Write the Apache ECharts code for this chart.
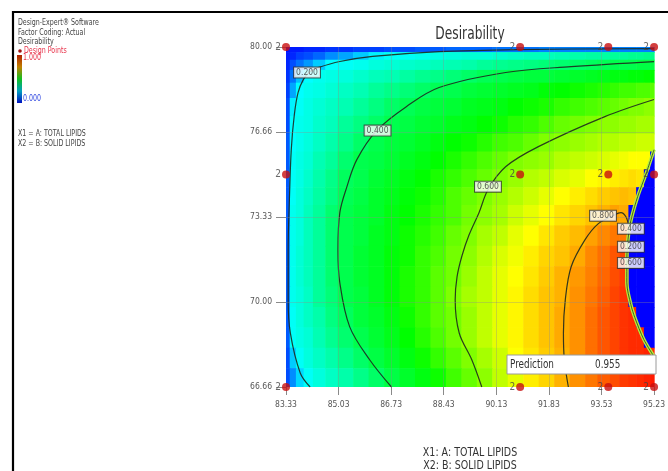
<!DOCTYPE html>
<html><head><meta charset="utf-8">
<script src="https://cdn.jsdelivr.net/npm/echarts@6/dist/echarts.min.js"></script>
<style>html,body{margin:0;padding:0;background:#fff}#c{width:668px;height:471px}</style>
</head><body><div id="c"></div>
<script>
// ---- tick labels ----
const xTicks = [83.33, 85.03, 86.73, 88.43, 90.13, 91.83, 93.53, 95.23];
const yTicks = [66.66, 70.00, 73.33, 76.66, 80.00];

// ---- desirability field ----
const xEdges = [83.33,83.45,83.65,83.9,84.2,84.6,85.0,85.5,86.0,86.5,87.0,87.5,88.0,88.5,89.0,89.5,90.0,90.5,91.0,91.5,92.0,92.5,93.0,93.4,93.8,94.1,94.4,94.65,94.9,95.1,95.23];
const yEdges = [80.0,79.8,79.5,79.1,78.6,78.0,77.3,76.6,75.9,75.2,74.5,73.8,73.0,72.2,71.4,70.6,69.8,69.0,68.2,67.4,66.66];
const d_79_90 = [0.01,0.02,0.02,0.03,0.03,0.04,0.04,0.05,0.05,0.06,0.06,0.07,0.07,0.08,0.08,0.08,0.09,0.09,0.09,0.10,0.10,0.10,0.10,0.10,0.10,0.10,0.10,0.10,0.10,0.10];
const d_79_65 = [0.02,0.03,0.05,0.06,0.08,0.11,0.13,0.16,0.19,0.21,0.21,0.22,0.23,0.24,0.25,0.25,0.26,0.27,0.28,0.28,0.29,0.30,0.31,0.31,0.32,0.32,0.33,0.33,0.34,0.34];
const d_79_30 = [0.03,0.06,0.09,0.12,0.16,0.20,0.21,0.22,0.24,0.25,0.26,0.27,0.28,0.29,0.30,0.32,0.33,0.34,0.35,0.36,0.37,0.38,0.39,0.40,0.41,0.41,0.41,0.42,0.42,0.42];
const d_78_85 = [0.04,0.09,0.15,0.20,0.22,0.23,0.24,0.26,0.28,0.29,0.31,0.33,0.34,0.36,0.38,0.40,0.41,0.42,0.43,0.43,0.44,0.45,0.46,0.47,0.48,0.48,0.49,0.49,0.50,0.50];
const d_78_30 = [0.05,0.13,0.20,0.22,0.23,0.25,0.27,0.29,0.32,0.34,0.36,0.38,0.40,0.41,0.43,0.44,0.45,0.46,0.47,0.49,0.50,0.51,0.52,0.53,0.54,0.55,0.55,0.56,0.56,0.57];
const d_77_65 = [0.06,0.19,0.21,0.23,0.25,0.27,0.29,0.32,0.35,0.38,0.40,0.42,0.43,0.44,0.46,0.47,0.48,0.50,0.51,0.52,0.54,0.55,0.56,0.57,0.58,0.59,0.60,0.60,0.61,0.61];
const d_76_95 = [0.06,0.20,0.22,0.23,0.26,0.28,0.32,0.35,0.38,0.41,0.42,0.44,0.45,0.47,0.48,0.50,0.51,0.53,0.54,0.56,0.58,0.59,0.60,0.61,0.61,0.62,0.62,0.63,0.63,0.63];
const d_76_25 = [0.07,0.20,0.22,0.24,0.27,0.30,0.34,0.38,0.41,0.43,0.44,0.46,0.48,0.50,0.51,0.53,0.55,0.56,0.58,0.60,0.61,0.62,0.63,0.64,0.64,0.65,0.65,0.66,0.66,0.66];
const d_75_55 = [0.07,0.21,0.23,0.25,0.29,0.32,0.37,0.41,0.42,0.44,0.46,0.48,0.50,0.52,0.54,0.56,0.58,0.60,0.61,0.62,0.64,0.65,0.66,0.67,0.68,0.69,0.70,0.70,0.70,0.00];
const d_74_85 = [0.07,0.21,0.23,0.26,0.30,0.34,0.39,0.41,0.44,0.46,0.48,0.50,0.52,0.54,0.56,0.58,0.60,0.62,0.64,0.65,0.67,0.68,0.70,0.71,0.72,0.73,0.74,0.73,0.00,0.00];
const d_74_15 = [0.07,0.21,0.24,0.27,0.31,0.35,0.40,0.42,0.45,0.47,0.49,0.51,0.53,0.56,0.58,0.60,0.62,0.64,0.66,0.68,0.70,0.72,0.74,0.76,0.77,0.78,0.77,0.00,0.00,0.00];
const d_73_40 = [0.07,0.22,0.24,0.28,0.32,0.37,0.41,0.43,0.45,0.48,0.50,0.52,0.54,0.56,0.59,0.61,0.63,0.66,0.68,0.70,0.73,0.75,0.77,0.79,0.81,0.80,0.00,0.00,0.00,0.00];
const d_72_60 = [0.07,0.22,0.24,0.28,0.32,0.37,0.41,0.43,0.46,0.48,0.51,0.53,0.55,0.58,0.60,0.63,0.65,0.68,0.70,0.73,0.76,0.78,0.81,0.84,0.86,0.86,0.00,0.00,0.00,0.00];
const d_71_80 = [0.07,0.22,0.25,0.28,0.32,0.37,0.41,0.44,0.46,0.49,0.51,0.54,0.56,0.59,0.61,0.64,0.67,0.69,0.72,0.75,0.77,0.80,0.84,0.87,0.90,0.92,0.00,0.00,0.00,0.00];
const d_71_00 = [0.07,0.22,0.25,0.28,0.32,0.37,0.41,0.44,0.46,0.49,0.52,0.54,0.57,0.59,0.62,0.65,0.68,0.70,0.73,0.76,0.79,0.82,0.85,0.88,0.91,0.93,0.00,0.00,0.00,0.00];
const d_70_20 = [0.07,0.22,0.24,0.27,0.32,0.36,0.41,0.43,0.46,0.49,0.52,0.54,0.57,0.60,0.63,0.65,0.68,0.71,0.74,0.77,0.79,0.83,0.86,0.89,0.92,0.94,0.00,0.00,0.00,0.00];
const d_69_40 = [0.07,0.21,0.24,0.27,0.30,0.35,0.39,0.43,0.45,0.48,0.51,0.54,0.57,0.59,0.62,0.65,0.68,0.71,0.74,0.77,0.80,0.83,0.87,0.90,0.92,0.94,0.95,0.00,0.00,0.00];
const d_68_60 = [0.07,0.21,0.23,0.25,0.29,0.33,0.37,0.41,0.44,0.47,0.50,0.53,0.56,0.59,0.62,0.65,0.68,0.71,0.74,0.77,0.80,0.83,0.87,0.90,0.92,0.94,0.95,0.95,0.00,0.00];
const d_67_80 = [0.06,0.16,0.21,0.24,0.27,0.30,0.34,0.38,0.42,0.45,0.48,0.51,0.54,0.57,0.60,0.63,0.66,0.70,0.73,0.76,0.79,0.83,0.87,0.90,0.92,0.94,0.95,0.95,0.96,0.95];
const d_67_03 = [0.06,0.11,0.17,0.21,0.24,0.27,0.30,0.34,0.38,0.42,0.45,0.48,0.51,0.55,0.58,0.61,0.65,0.68,0.72,0.75,0.79,0.83,0.86,0.89,0.91,0.93,0.94,0.95,0.96,0.97];
const fieldRows = [d_79_90,d_79_65,d_79_30,d_78_85,d_78_30,d_77_65,d_76_95,d_76_25,d_75_55,d_74_85,d_74_15,d_73_40,d_72_60,d_71_80,d_71_00,d_70_20,d_69_40,d_68_60,d_67_80,d_67_03];

// ---- contour lines ----
const contour020 = [[84.11,66.66],[83.79,67.21],[83.47,68.78],[83.40,70.08],[83.40,72.04],[83.44,74.01],[83.50,75.97],[83.60,77.35],[83.72,78.21],[83.89,78.72],[84.11,79.04],[84.37,79.19],[85.07,79.43],[86.13,79.63],[88.28,79.82],[90.85,79.90],[95.23,79.94]];
const contour040 = [[86.74,66.66],[86.04,67.72],[85.39,69.02],[85.07,70.75],[85.01,72.04],[85.07,73.50],[85.30,74.52],[85.62,75.58],[86.26,76.72],[87.22,77.66],[88.28,78.41],[90.43,79.00],[92.55,79.23],[95.23,79.43]];
const contour060 = [[89.66,66.66],[89.34,67.72],[88.93,68.78],[88.80,70.08],[88.86,70.98],[89.02,71.81],[89.25,72.63],[89.57,73.50],[89.86,74.40],[90.43,75.30],[91.49,76.09],[93.64,77.27],[95.23,77.94]];
const contour080 = [[92.46,66.66],[92.33,67.72],[92.30,68.78],[92.36,70.08],[92.55,71.38],[93.00,72.44],[93.42,73.06],[93.90,73.38],[94.16,73.50],[94.32,73.34],[94.41,72.99]];
const edgeContour = [[95.23,75.97],[94.96,74.99],[94.70,74.13],[94.51,73.34],[94.41,72.71],[94.35,71.65],[94.35,70.75],[94.48,69.89],[94.61,69.38],[94.90,68.52],[95.23,67.85]];

// ---- contour labels ----
const labelText = ['0.200','0.400','0.600','0.800','0.400','0.200','0.600'];
const labelX = [84.01, 86.29, 89.86, 93.58, 94.48, 94.48, 94.48];
const labelY = [79.00, 76.72, 74.52, 73.38, 72.87, 72.16, 71.53];

// ---- design points ----
const dpX = [83.33, 90.90, 93.75, 95.23, 83.33, 90.90, 93.75, 95.23, 83.33, 90.90, 93.75, 95.23];
const dpY = [80.00, 80.00, 80.00, 80.00, 75.00, 75.00, 75.00, 75.00, 66.66, 66.66, 66.66, 66.66];
const dpRuns = [2,2,2,2,2,2,2,2,2,2,2,2];

const predictionValue = '0.955';

const FONT = "'Liberation Sans Narrow','DejaVu Sans Condensed','Arial Narrow',sans-serif";
const palette = ['#0000ff','#0080ff','#00ffff','#00ffaa','#00ff55','#00ff00','#80ff00','#ffff00','#ffaa00','#ff5500','#ff0000'];

const cells = [];
fieldRows.forEach((row, j) => row.forEach((v, i) => {
  cells.push([xEdges[i], xEdges[i + 1], yEdges[j + 1], yEdges[j], v]);
}));

const chart = echarts.init(document.getElementById('c'));
const contourStyle = { color: '#1e2a1e', width: 1.2, opacity: 0.9 };
function contourSeries(data, extra) {
  return Object.assign({
    type: 'line', data: data, smooth: 0.35, symbol: 'none', clip: true, z: 4,
    lineStyle: contourStyle, silent: true
  }, extra || {});
}
const text = (x, y, s, opt, sx) => ({
  type: 'text', x: x, y: y, z: 50, scaleX: sx || 0.78,
  style: Object.assign({ text: s, fontSize: 9, fontFamily: FONT, fill: '#444', verticalAlign: 'middle', align: 'left' }, opt || {})
});

chart.setOption({
  animation: false,
  backgroundColor: '#ffffff',
  grid: { left: 286, top: 47, width: 371, height: 340 },
  xAxis: {
    type: 'value', min: 83.33, max: 95.23,
    axisLine: { show: false }, splitLine: { show: false },
    axisTick: { show: true, customValues: xTicks, length: 8, lineStyle: { color: '#8a8a8a' } },
    axisLabel: { customValues: xTicks, formatter: v => v.toFixed(2), margin: 13, fontSize: 8.5, color: '#555', fontFamily: FONT }
  },
  yAxis: {
    type: 'value', min: 66.66, max: 80.00,
    axisLine: { show: false }, splitLine: { show: false },
    axisTick: { show: true, customValues: yTicks, length: 10, lineStyle: { color: '#8a8a8a' } },
    axisLabel: { customValues: yTicks, formatter: v => v.toFixed(2), margin: 14, fontSize: 8.5, color: '#555', fontFamily: FONT }
  },
  visualMap: {
    type: 'continuous', show: false, min: 0, max: 1, dimension: 4, seriesIndex: 0,
    inRange: { color: palette }
  },
  series: [
    {
      type: 'custom', data: cells, clip: true, z: 1, silent: true,
      encode: { x: [0, 1], y: [2, 3] },
      renderItem: function (params, api) {
        const p0 = api.coord([api.value(0), api.value(3)]);
        const p1 = api.coord([api.value(1), api.value(2)]);
        return {
          type: 'rect',
          shape: { x: p0[0], y: p0[1], width: p1[0] - p0[0] + 0.6, height: p1[1] - p0[1] + 0.6 },
          style: { fill: api.visual('color') }
        };
      }
    },
    contourSeries(contour020, {
      markLine: {
        silent: true, symbol: 'none', label: { show: false },
        lineStyle: { color: 'rgba(140,140,140,0.35)', width: 1, type: 'solid' },
        data: xTicks.slice(1, -1).map(v => ({ xAxis: v })).concat(yTicks.slice(1, -1).map(v => ({ yAxis: v })))
      }
    }),
    contourSeries(contour040),
    contourSeries(contour060),
    contourSeries(contour080),
    contourSeries(edgeContour, { smooth: 0.3, lineStyle: { color: '#b4f03c', width: 3.5 } }),
    contourSeries(edgeContour, { smooth: 0.3, lineStyle: { color: '#2a3a1a', width: 1, opacity: 0.8 } }),
    {
      type: 'scatter', z: 8, silent: true, symbol: 'rect', symbolSize: 1,
      itemStyle: { color: 'rgba(0,0,0,0)' },
      data: labelX.map((x, i) => ({ value: [x, labelY[i]], name: labelText[i] })),
      label: {
        show: true, position: 'inside', formatter: p => p.name,
        fontSize: 8.5, fontFamily: FONT, color: '#333',
        backgroundColor: '#ffffff', borderColor: '#333', borderWidth: 1, padding: [1, 2, 0, 2]
      }
    },
    {
      type: 'scatter', z: 9, silent: true, clip: false, symbol: 'circle', symbolSize: 8,
      itemStyle: { color: '#c80f0f' },
      data: dpX.map((x, i) => [x, dpY[i]]),
      label: {
        show: true, position: 'left', distance: 1,
        formatter: p => String(dpRuns[p.dataIndex]),
        fontSize: 10, fontFamily: FONT, color: '#444'
      }
    }
  ],
  graphic: [
    { type: 'polyline', z: 60, shape: { points: [[13, 471], [13, 12], [668, 12]] }, style: { stroke: '#000', lineWidth: 2.2, fill: null } },
    text(470, 35, 'Desirability', { fontSize: 17, align: 'center', fill: '#333' }, 0.8),
    text(18, 23, 'Design-Expert® Software'),
    text(18, 33, 'Factor Coding: Actual'),
    text(18, 42, 'Desirability'),
    { type: 'circle', z: 50, shape: { cx: 20, cy: 51, r: 1.8 }, style: { fill: '#a01010' } },
    text(24, 51, 'Design Points', { fill: '#e8324a' }),
    {
      type: 'rect', z: 50, shape: { x: 17, y: 55, width: 5, height: 48 },
      style: {
        fill: new echarts.graphic.LinearGradient(0, 0, 0, 1, [
          { offset: 0, color: '#b02000' }, { offset: 0.25, color: '#c08000' },
          { offset: 0.5, color: '#10c020' }, { offset: 0.75, color: '#00a0c0' }, { offset: 1, color: '#0010c0' }
        ])
      }
    },
    text(23, 58, '1.000', { fill: '#e8324a' }),
    text(23, 99, '0.000', { fill: '#3048e0' }),
    text(18, 134, 'X1 = A: TOTAL LIPIDS'),
    text(18, 144, 'X2 = B: SOLID LIPIDS'),
    { type: 'rect', z: 40, shape: { x: 507, y: 355, width: 149, height: 19 }, style: { fill: '#ffffff', stroke: '#9a9a9a', lineWidth: 1 } },
    text(510, 365, 'Prediction', { fontSize: 12, fill: '#333' }, 0.82),
    text(595, 365, predictionValue, { fontSize: 12, fill: '#333' }, 0.82),
    text(470, 453, 'X1: A: TOTAL LIPIDS', { fontSize: 12, align: 'center', fill: '#333' }, 0.88),
    text(470, 466, 'X2: B: SOLID LIPIDS', { fontSize: 12, align: 'center', fill: '#333' }, 0.88)
  ]
});
</script></body></html>
